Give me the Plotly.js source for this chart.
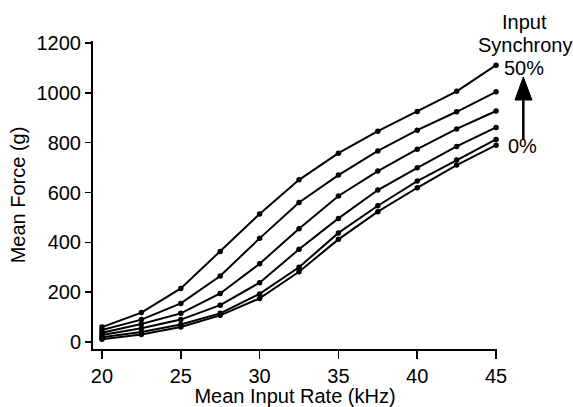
<!DOCTYPE html>
<html><head>
<meta charset="utf-8">
<script src="https://cdn.plot.ly/plotly-3.0.1.min.js"></script>
<style>html,body{margin:0;padding:0;background:#fff}</style>
</head><body>
<div id="chart" style="width:573px;height:407px"></div>
<script>
const inputRate = [20, 22.5, 25, 27.5, 30, 32.5, 35, 37.5, 40, 42.5, 45];
const sync50 = [60, 118, 215, 363, 514, 651, 758, 846, 925, 1006, 1111];
const sync40 = [48, 90, 155, 265, 416, 560, 670, 767, 850, 924, 1004];
const sync30 = [37, 72, 115, 195, 314, 455, 586, 686, 774, 855, 927];
const sync20 = [28, 55, 90, 148, 238, 372, 496, 610, 699, 785, 861];
const sync10 = [19, 40, 70, 115, 193, 300, 438, 547, 646, 730, 813];
const sync0  = [11, 30, 60, 107, 175, 282, 412, 523, 619, 710, 790];
const seriesNames = ['50%', '40%', '30%', '20%', '10%', '0%'];
const seriesValues = [sync50, sync40, sync30, sync20, sync10, sync0];
const yTicks = [0, 200, 400, 600, 800, 1000, 1200];
const xTicks = [20, 25, 30, 35, 40, 45];

const FONT = 'Liberation Sans, Arial, Helvetica, sans-serif';
const FS = 20;
const traces = seriesValues.map((vals, i) => ({
  type: 'scatter', mode: 'lines+markers', name: seriesNames[i],
  x: inputRate, y: vals,
  line: {color: '#000', width: 2},
  marker: {color: '#000', size: 5.5},
  cliponaxis: false
}));

const layout = {
  width: 573, height: 407,
  margin: {l: 93, r: 76, t: 41, b: 58},
  paper_bgcolor: '#fff', plot_bgcolor: '#fff',
  showlegend: false,
  font: {family: FONT, size: FS, color: '#000'},
  xaxis: {
    range: [19.43, 45.06], tickvals: xTicks, ticktext: xTicks.map(String),
    showline: true, linecolor: '#000', linewidth: 2,
    ticks: 'outside', ticklen: 8, tickwidth: 1.5, tickcolor: '#000',
    showgrid: false, zeroline: false,
    tickfont: {family: FONT, size: FS, color: '#000'},
    title: {text: 'Mean Input Rate (kHz)', font: {family: FONT, size: FS, color: '#000'}, standoff: 0}
  },
  yaxis: {
    range: [-28, 1208], tickvals: yTicks, ticktext: yTicks.map(String),
    showline: true, linecolor: '#000', linewidth: 2,
    ticks: 'outside', ticklen: 6, tickwidth: 1.5, tickcolor: '#000',
    showgrid: false, zeroline: false,
    tickfont: {family: FONT, size: FS, color: '#000'},
    title: {text: 'Mean Force (g)', font: {family: FONT, size: FS, color: '#000'}, standoff: 6}
  },
  annotations: [
    {xref: 'paper', yref: 'paper', x: 1.067, y: 1.063, text: 'Input', showarrow: false, xanchor: 'center', yanchor: 'middle', font: {family: FONT, size: FS, color: '#000'}},
    {xref: 'paper', yref: 'paper', x: 1.071, y: 0.987, text: 'Synchrony', showarrow: false, xanchor: 'center', yanchor: 'middle', font: {family: FONT, size: FS, color: '#000'}},
    {xref: 'paper', yref: 'paper', x: 1.067, y: 0.912, text: '50%', showarrow: false, xanchor: 'center', yanchor: 'middle', font: {family: FONT, size: FS, color: '#000'}},
    {xref: 'paper', yref: 'paper', x: 1.064, y: 0.659, text: '0%', showarrow: false, xanchor: 'center', yanchor: 'middle', font: {family: FONT, size: FS, color: '#000'}}
  ],
  shapes: [
    {type: 'line', xref: 'paper', yref: 'paper', x0: 1.0651, x1: 1.0651, y0: 0.6786, y1: 0.82,
     line: {color: '#000', width: 2.5}},
    {type: 'path', xref: 'paper', yref: 'paper',
     path: 'M 1.0651 0.8831 L 1.0446 0.8084 L 1.0866 0.8084 Z',
     fillcolor: '#000', line: {color: '#000', width: 1}}
  ]
};

Plotly.newPlot('chart', traces, layout, {displayModeBar: false, staticPlot: true});
</script>
</body></html>
